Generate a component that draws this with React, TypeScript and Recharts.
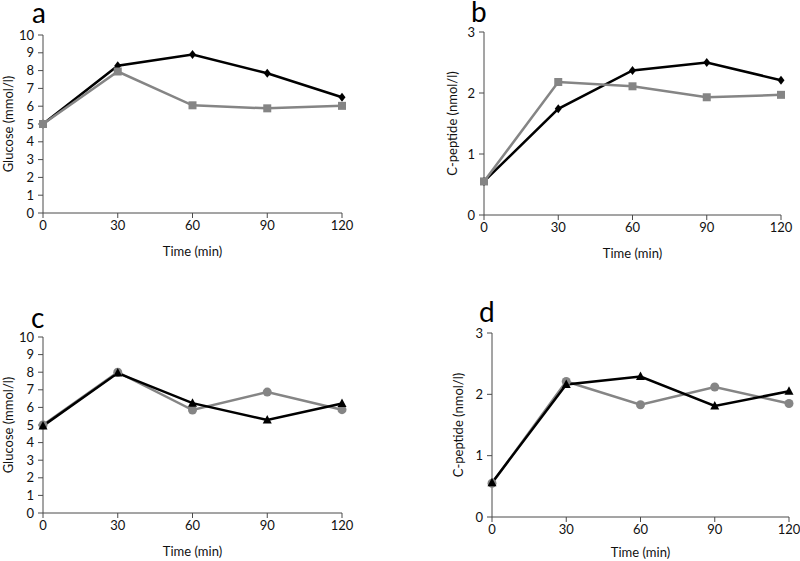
import React from 'react';
import { LineChart, Line, XAxis, YAxis } from 'recharts';

const timeMin = [0, 30, 60, 90, 120];
const xTicks = [0, 30, 60, 90, 120];
const glucoseTicks = [0, 1, 2, 3, 4, 5, 6, 7, 8, 9, 10];
const cpeptideTicks = [0, 1, 2, 3];

const glucoseA_black = [5.0, 8.27, 8.9, 7.85, 6.5];
const glucoseA_gray = [5.0, 7.95, 6.05, 5.88, 6.02];
const cpeptideB_black = [0.55, 1.74, 2.37, 2.5, 2.21];
const cpeptideB_gray = [0.55, 2.18, 2.11, 1.93, 1.97];
const glucoseC_black = [4.95, 7.95, 6.24, 5.28, 6.22];
const glucoseC_gray = [5.0, 8.0, 5.85, 6.87, 5.87];
const cpeptideD_black = [0.56, 2.16, 2.29, 1.81, 2.05];
const cpeptideD_gray = [0.55, 2.21, 1.83, 2.12, 1.85];

const panelLetters = ['a', 'b', 'c', 'd'];

const FONT = 'Lato, "Open Sans", sans-serif';
const BLACK = '#000000';
const GRAY = '#858585';
const AXIS = '#4a4a4a';

const rows = (black: number[], gray: number[]) =>
  timeMin.map((t, i) => ({ t, black: black[i], gray: gray[i] }));

const squareDot = (fill: string) => (p: any) => (
  <rect key={`s-${p.index}`} x={p.cx - 4} y={p.cy - 4} width={8} height={8} fill={fill} />
);
const diamondDot = (fill: string) => (p: any) => (
  <polygon
    key={`d-${p.index}`}
    points={`${p.cx},${p.cy - 4.5} ${p.cx + 3.5},${p.cy} ${p.cx},${p.cy + 4.5} ${p.cx - 3.5},${p.cy}`}
    fill={fill}
  />
);
const circleDot = (fill: string) => (p: any) => (
  <circle key={`c-${p.index}`} cx={p.cx} cy={p.cy} r={4.5} fill={fill} />
);
const triangleDot = (fill: string) => (p: any) => (
  <polygon
    key={`t-${p.index}`}
    points={`${p.cx},${p.cy - 5} ${p.cx + 4.5},${p.cy + 3.5} ${p.cx - 4.5},${p.cy + 3.5}`}
    fill={fill}
  />
);

type PanelProps = {
  left: number;
  top: number;
  width: number;
  height: number;
  margin: { top: number; right: number; bottom: number; left: number };
  xHeight: number;
  yWidth: number;
  yLabel: string;
  yLabelOffset: number;
  yTicks: number[];
  data: any[];
  blackDot: any;
  grayDot: any;
  grayOnTop: boolean;
};

const Panel = (p: PanelProps) => {
  const blackLine = (
    <Line
      key="black"
      dataKey="black"
      stroke={BLACK}
      strokeWidth={2.5}
      dot={p.blackDot}
      activeDot={false}
      isAnimationActive={false}
    />
  );
  const grayLine = (
    <Line
      key="gray"
      dataKey="gray"
      stroke={GRAY}
      strokeWidth={2.5}
      dot={p.grayDot}
      activeDot={false}
      isAnimationActive={false}
    />
  );
  return (
    <div style={{ position: 'absolute', left: p.left, top: p.top }}>
      <LineChart width={p.width} height={p.height} data={p.data} margin={p.margin}>
        <XAxis
          dataKey="t"
          type="number"
          domain={[0, 120]}
          ticks={xTicks}
          interval={0}
          stroke={AXIS}
          tickSize={5}
          tickMargin={3}
          height={p.xHeight}
          tick={{ fill: '#111', fontSize: 13, fontFamily: FONT }}
          label={{ value: 'Time (min)', position: 'insideBottom', offset: 0, fill: '#111', fontSize: 13, fontFamily: FONT }}
        />
        <YAxis
          type="number"
          domain={[p.yTicks[0], p.yTicks[p.yTicks.length - 1]]}
          ticks={p.yTicks}
          interval={0}
          width={p.yWidth}
          stroke={AXIS}
          tickSize={5}
          tickMargin={4}
          tick={{ fill: '#111', fontSize: 13, fontFamily: FONT }}
          label={{
            value: p.yLabel,
            angle: -90,
            position: 'insideLeft',
            offset: p.yLabelOffset,
            fill: '#111',
            fontSize: 13,
            fontFamily: FONT,
            style: { textAnchor: 'middle' },
          }}
        />
        {p.grayOnTop ? [blackLine, grayLine] : [grayLine, blackLine]}
      </LineChart>
    </div>
  );
};

export default function App() {
  return (
    <div style={{ position: 'absolute', left: 0, top: 0, width: 800, height: 561, background: '#fff', overflow: 'hidden' }}>
      <Panel
        left={0}
        top={0}
        width={400}
        height={280}
        margin={{ top: 35, right: 58, bottom: 24, left: 0 }}
        xHeight={43}
        yWidth={43}
        yLabel="Glucose (mmol/l)"
        yLabelOffset={8}
        yTicks={glucoseTicks}
        data={rows(glucoseA_black, glucoseA_gray)}
        blackDot={diamondDot(BLACK)}
        grayDot={squareDot(GRAY)}
        grayOnTop={true}
      />
      <Panel
        left={440}
        top={0}
        width={360}
        height={280}
        margin={{ top: 32, right: 19, bottom: 22, left: 0 }}
        xHeight={43}
        yWidth={44}
        yLabel="C-peptide (nmol/l)"
        yLabelOffset={12}
        yTicks={cpeptideTicks}
        data={rows(cpeptideB_black, cpeptideB_gray)}
        blackDot={diamondDot(BLACK)}
        grayDot={squareDot(GRAY)}
        grayOnTop={true}
      />
      <Panel
        left={0}
        top={280}
        width={400}
        height={281}
        margin={{ top: 57, right: 58, bottom: 5, left: 0 }}
        xHeight={43}
        yWidth={43}
        yLabel="Glucose (mmol/l)"
        yLabelOffset={8}
        yTicks={glucoseTicks}
        data={rows(glucoseC_black, glucoseC_gray)}
        blackDot={triangleDot(BLACK)}
        grayDot={circleDot(GRAY)}
        grayOnTop={false}
      />
      <Panel
        left={440}
        top={280}
        width={360}
        height={281}
        margin={{ top: 53, right: 11, bottom: 4, left: 0 }}
        xHeight={40}
        yWidth={52}
        yLabel="C-peptide (nmol/l)"
        yLabelOffset={18}
        yTicks={cpeptideTicks}
        data={rows(cpeptideD_black, cpeptideD_gray)}
        blackDot={triangleDot(BLACK)}
        grayDot={circleDot(GRAY)}
        grayOnTop={false}
      />
      <svg width={800} height={561} style={{ position: 'absolute', left: 0, top: 0, pointerEvents: 'none' }}>
        <text x={32} y={23} fontSize={28} fontFamily={FONT} fill="#000">{panelLetters[0]}</text>
        <text x={471} y={22} fontSize={28} fontFamily={FONT} fill="#000">{panelLetters[1]}</text>
        <text x={31} y={328} fontSize={28} fontFamily={FONT} fill="#000">{panelLetters[2]}</text>
        <text x={479} y={322} fontSize={28} fontFamily={FONT} fill="#000">{panelLetters[3]}</text>
      </svg>
    </div>
  );
}
